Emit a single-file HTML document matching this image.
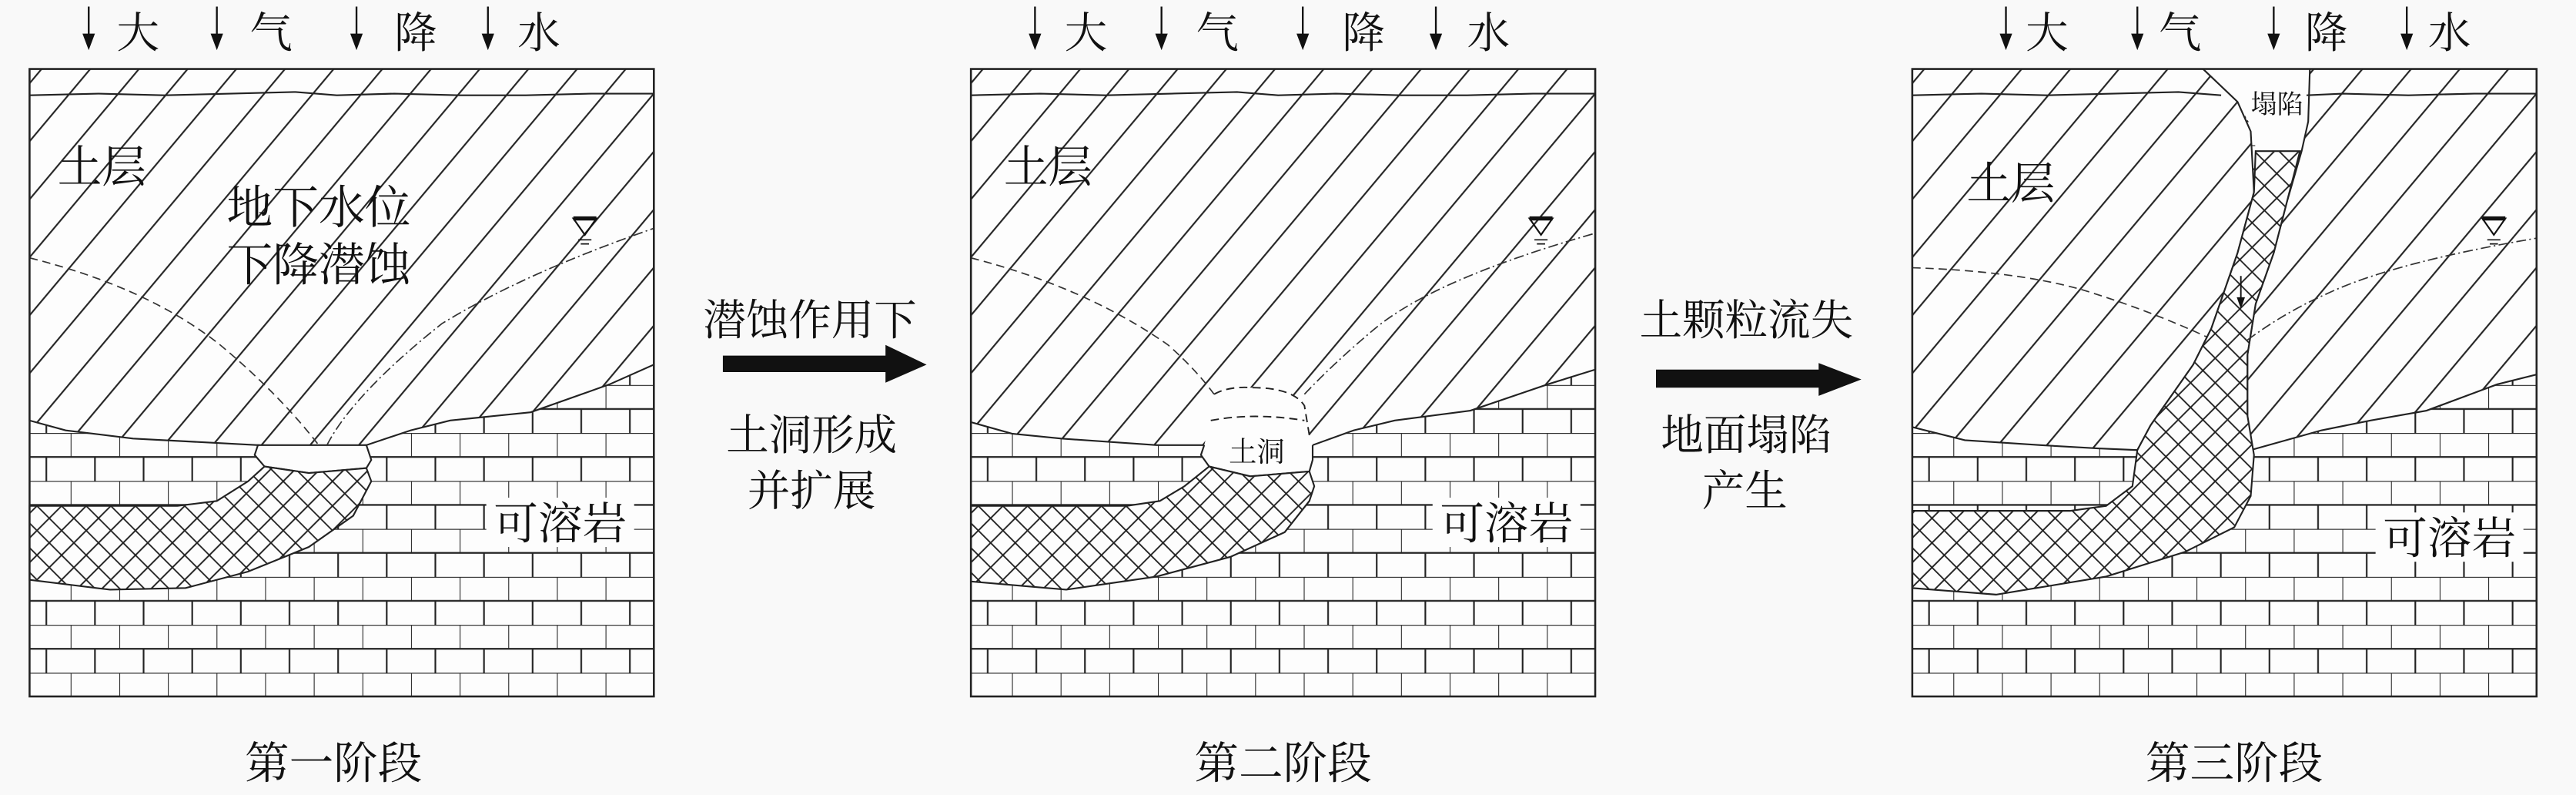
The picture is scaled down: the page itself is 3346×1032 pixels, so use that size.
<!DOCTYPE html>
<html><head><meta charset="utf-8"><style>
html,body{margin:0;padding:0;background:#f9f9f9;}
svg{display:block;}
text{font-family:"Liberation Serif","Noto Serif CJK SC",serif;fill:#111;}
</style></head><body>
<svg width="3346" height="1032" viewBox="0 0 1568 484" preserveAspectRatio="none" xmlns="http://www.w3.org/2000/svg">
<defs>
<pattern id="brick" patternUnits="userSpaceOnUse" x="13.4" y="0.8" width="29.6" height="29.2">
<rect width="29.6" height="29.2" fill="#fdfdfd"/>
<path d="M0 0H29.6M0 14.6H29.6M0 0V14.6M14.8 14.6V29.2" stroke="#222" stroke-width="1" fill="none"/>
</pattern>
<pattern id="hatch" patternUnits="userSpaceOnUse" width="22.7" height="40" patternTransform="rotate(40)">
<rect width="22.7" height="40" fill="#fdfdfd"/>
<path d="M1 0V40" stroke="#222" stroke-width="1"/>
</pattern>
<pattern id="cross" patternUnits="userSpaceOnUse" width="10.6" height="10.6" patternTransform="rotate(45)">
<rect width="10.6" height="10.6" fill="#fdfdfd"/>
<path d="M0 0.5H10.6M0.5 0V10.6" stroke="#222" stroke-width="0.9"/>
</pattern>
<g id="arrows">
<g stroke="#111" stroke-width="1.1" fill="#111">
<path d="M0 4V24"/><path d="M-3 21L0 29L3 21Z"/>
</g>
</g>
<g id="wt">
<path d="M-7 -6H7L0 4Z" fill="none" stroke="#111" stroke-width="1"/>
<path d="M-7 -6H7" stroke="#111" stroke-width="2.5"/>
<path d="M-4 7H4M-2.5 9.5H2.5" stroke="#111" stroke-width="0.8"/>
</g>
</defs>
<rect width="1568" height="484" fill="#f9f9f9"/>

<!-- ========== PANEL 1 ========== -->
<g>
<rect x="18" y="42" width="380" height="382" fill="url(#brick)"/>
<path d="M18 42H398V222L371 234L323 251L274 256L250 262L223 271L188 273L157 271L81 267L40 262L18 256Z" fill="url(#hatch)" stroke="#222" stroke-width="1"/>
<path d="M18 58L60 57L100 58L140 57L180 56L205 58L240 57L280 58L320 58L360 57L398 57" fill="none" stroke="#222" stroke-width="1"/>
<path d="M157 271L223 271L226 280L223 285L188 288L161 284L155 277Z" fill="#fdfdfd" stroke="#222" stroke-width="1"/>
<path d="M161 284L188 288L223 285L226 293L215 314L188 333L151 348L113 358L67 359L18 353V308L108 308L132 305L151 293Z" fill="url(#cross)" stroke="#222" stroke-width="1"/>
<path d="M18 157Q90 175 134 210Q170 240 194 271" fill="none" stroke="#333" stroke-width="0.8" stroke-dasharray="5 3"/>
<path d="M199 271Q215 240 269 197Q320 166 398 139" fill="none" stroke="#333" stroke-width="0.8" stroke-dasharray="6 2 1 2"/>
<use href="#wt" x="356" y="139"/>
<rect x="18" y="42" width="380" height="382" fill="none" stroke="#222" stroke-width="1.2"/>
<rect x="296" y="303" width="90" height="30" fill="#fdfdfd"/>
<text x="62" y="111" font-size="27" text-anchor="middle">土层</text>
<text x="194" y="136" font-size="28" text-anchor="middle">地下水位</text>
<text x="194" y="171" font-size="28" text-anchor="middle">下降潜蚀</text>
<text x="341" y="328" font-size="27" text-anchor="middle">可溶岩</text>
<use href="#arrows" x="54" y="0"/><use href="#arrows" x="132" y="0"/><use href="#arrows" x="217" y="0"/><use href="#arrows" x="297" y="0"/>
<text x="84" y="29" font-size="26" text-anchor="middle">大</text>
<text x="165" y="29" font-size="26" text-anchor="middle">气</text>
<text x="253" y="29" font-size="26" text-anchor="middle">降</text>
<text x="328" y="29" font-size="26" text-anchor="middle">水</text>
<text x="203" y="474" font-size="27" text-anchor="middle">第一阶段</text>
</g>

<!-- ========== PANEL 2 ========== -->
<g transform="translate(573,0)">
<rect x="18" y="42" width="380" height="382" fill="url(#brick)"/>
<path d="M18 42H398V225L369 234L322 250L276 256L251 262L226 271L160 271L131 271L73 267L43 264L18 257Z" fill="url(#hatch)" stroke="#222" stroke-width="1"/>
<path d="M18 58L60 57L100 58L140 57L180 56L205 58L240 57L280 58L320 58L360 57L398 57" fill="none" stroke="#222" stroke-width="1"/>
<path d="M169 240Q175 235 189 236Q214 236 221 247L224 265L226 271L227 287L188 290L163 284L158 277L160 271L164 256Z" fill="#fdfdfd"/>
<path d="M166 240Q175 235 189 236Q214 236 221 247L224 265" fill="none" stroke="#222" stroke-width="0.9" stroke-dasharray="5 3"/>
<path d="M164 256Q190 251 221 256" fill="none" stroke="#222" stroke-width="0.9" stroke-dasharray="5 3"/>
<path d="M160 271L158 277L163 284L188 290L224 287L226 280L226 271" fill="none" stroke="#222" stroke-width="1"/>
<path d="M163 284L188 290L224 287L227 296L224 305L209 324L176 339L131 351L76 359L18 354V308L113 308L133 305L148 296Z" fill="url(#cross)" stroke="#222" stroke-width="1"/>
<path d="M18 157Q88 175 138 210Q155 225 166 240" fill="none" stroke="#333" stroke-width="0.8" stroke-dasharray="5 3"/>
<path d="M221 240Q240 220 264 200Q300 170 398 142" fill="none" stroke="#333" stroke-width="0.8" stroke-dasharray="6 2 1 2"/>
<use href="#wt" x="365" y="139"/>
<rect x="18" y="42" width="380" height="382" fill="none" stroke="#222" stroke-width="1.2"/>
<rect x="299" y="303" width="90" height="30" fill="#fdfdfd"/>
<text x="65" y="111" font-size="27" text-anchor="middle">土层</text>
<text x="192" y="281" font-size="17" text-anchor="middle">土洞</text>
<text x="344" y="328" font-size="27" text-anchor="middle">可溶岩</text>
<use href="#arrows" x="57" y="0"/><use href="#arrows" x="134" y="0"/><use href="#arrows" x="220" y="0"/><use href="#arrows" x="301" y="0"/>
<text x="88" y="29" font-size="26" text-anchor="middle">大</text>
<text x="168" y="29" font-size="26" text-anchor="middle">气</text>
<text x="257" y="29" font-size="26" text-anchor="middle">降</text>
<text x="333" y="29" font-size="26" text-anchor="middle">水</text>
<text x="208" y="474" font-size="27" text-anchor="middle">第二阶段</text>
</g>

<!-- ========== PANEL 3 ========== -->
<g transform="translate(1146,0)">
<rect x="18" y="42" width="380" height="382" fill="url(#brick)"/>
<path d="M195 42L260 42L259 74L255 92L227 92L226 80L216 62Z" fill="#fdfdfd"/>
<path d="M18 42H195L216 62L224 80L226 117L216 154L200 200L189 222L163 259L155 274L131 273L96 271L50 268L18 260Z" fill="url(#hatch)" stroke="#222" stroke-width="1"/>
<path d="M260 42H398V228L374 234L331 250L297 256L267 262L224 274L222 253L222 216L227 185L238 154L246 123L255 92L259 74Z" fill="url(#hatch)" stroke="#222" stroke-width="1"/>
<path d="M18 58L60 57L100 58L140 57L180 56L206 58" fill="none" stroke="#222" stroke-width="1"/>
<path d="M258 58L280 57L320 58L360 57L398 57" fill="none" stroke="#222" stroke-width="1"/>
<path d="M18 311L114 311L136 308L152 296L155 274L163 259L189 222L200 200L216 154L226 117L227 92L254 92L246 123L238 154L227 185L222 216L222 253L226 277L224 302L214 321L184 336L136 351L69 362L18 358Z" fill="url(#cross)" stroke="#222" stroke-width="1"/>
<path d="M18 163Q80 165 120 176Q160 188 197 205" fill="none" stroke="#333" stroke-width="0.8" stroke-dasharray="5 3"/>
<path d="M222 207Q245 190 270 179Q310 160 398 145" fill="none" stroke="#333" stroke-width="0.8" stroke-dasharray="6 2 1 2"/>
<path d="M218 168V183" stroke="#111" stroke-width="0.9"/><path d="M215.5 181L218 188L220.5 181Z" fill="#111"/>
<use href="#wt" x="372" y="139"/>
<rect x="18" y="42" width="380" height="382" fill="none" stroke="#222" stroke-width="1.2"/>
<rect x="300" y="312" width="90" height="30" fill="#fdfdfd"/>
<text x="78" y="121" font-size="27" text-anchor="middle">土层</text>
<text x="240" y="69" font-size="16" text-anchor="middle">塌陷</text>
<text x="345" y="337" font-size="27" text-anchor="middle">可溶岩</text>
<use href="#arrows" x="75" y="0"/><use href="#arrows" x="155" y="0"/><use href="#arrows" x="238" y="0"/><use href="#arrows" x="319" y="0"/>
<text x="100" y="29" font-size="26" text-anchor="middle">大</text>
<text x="181" y="29" font-size="26" text-anchor="middle">气</text>
<text x="270" y="29" font-size="26" text-anchor="middle">降</text>
<text x="345" y="29" font-size="26" text-anchor="middle">水</text>
<text x="214" y="474" font-size="27" text-anchor="middle">第三阶段</text>
</g>

<!-- ========== Transition arrows ========== -->
<path d="M440 216.5H539V210L564 222L539 233V226.5H440Z" fill="#111"/>
<text x="493" y="204" font-size="26" text-anchor="middle">潜蚀作用下</text>
<text x="494" y="274" font-size="26" text-anchor="middle">土洞形成</text>
<text x="494" y="308" font-size="26" text-anchor="middle">并扩展</text>

<path d="M1008 225H1107V221L1133 231L1107 241V236H1008Z" fill="#111"/>
<text x="1063" y="204" font-size="26" text-anchor="middle">土颗粒流失</text>
<text x="1063" y="274" font-size="26" text-anchor="middle">地面塌陷</text>
<text x="1062" y="308" font-size="26" text-anchor="middle">产生</text>
</svg>
</body></html>
